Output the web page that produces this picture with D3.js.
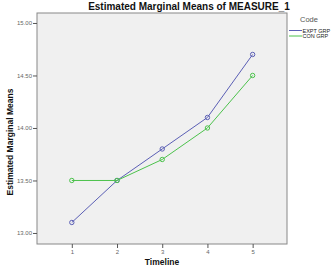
<!DOCTYPE html>
<html lang="en">
    <head>
        <meta charset="utf-8">
        <title>Estimated Marginal Means</title>
        <script src="https://d3js.org/d3.v7.min.js"></script>
        <style type="text/css">
            body { margin: 0; background: white; }
            svg text { font-family: "Liberation Sans", "Arial", sans-serif; }
            .axis path { display: none; }
            .axis line { stroke: #555; }
            .axis text { fill: #666; font-size: 6px; }
        </style>
    </head>
    <body>
        <div id="chart"></div>
        <script type="text/javascript">
        //DATA
            const timeline = [1, 2, 3, 4, 5];
            const exptGrp = [13.1, 13.5, 13.8, 14.1, 14.7];
            const conGrp = [13.5, 13.5, 13.7, 14.0, 14.5];
            const yTicks = [13.0, 13.5, 14.0, 14.5, 15.0];
            const seriesNames = ["EXPT GRP", "CON GRP"];
            const seriesColors = ["#5b5fb5", "#4cc24c"];

        //CONSTANTS
            const w = 334;
            const h = 268;
            const plotL = 37, plotR = 287, plotT = 13, plotB = 244;

            const svg = d3.select("#chart")
                    .append("svg")
                    .attr("width", w)
                    .attr("height", h);

            //SCALES
            const xScale = d3.scaleLinear()
                            .domain([0.23, 5.76])
                            .range([plotL, plotR]);
            const yScale = d3.scaleLinear()
                            .domain([12.895, 15.095])
                            .range([plotB, plotT]);

            //PLOT BACKGROUND
            svg.append("rect")
                .attr("x", plotL)
                .attr("y", plotT)
                .attr("width", plotR - plotL)
                .attr("height", plotB - plotT)
                .attr("fill", "#f0f0f0")
                .attr("stroke", "#888")
                .attr("stroke-width", 1);

            //AXES
            svg.append("g")
                .attr("class", "axis")
                .attr("transform", "translate(0," + plotB + ")")
                .call(d3.axisBottom(xScale).tickValues(timeline).tickSize(4).tickPadding(2).tickFormat(d3.format("d")));

            svg.append("g")
                .attr("class", "axis")
                .attr("transform", "translate(" + plotL + ",0)")
                .call(d3.axisLeft(yScale).tickValues(yTicks).tickSize(4).tickPadding(1).tickFormat(d3.format(".2f")));

            //LINES + MARKERS
            const line = d3.line()
                .x((d, i) => xScale(timeline[i]))
                .y(d => yScale(d));

            [exptGrp, conGrp].forEach((series, k) => {
                svg.append("path")
                    .datum(series)
                    .attr("d", line)
                    .attr("fill", "none")
                    .attr("stroke", seriesColors[k])
                    .attr("stroke-width", 1);

                svg.selectAll(".pt" + k)
                    .data(series)
                    .enter()
                    .append("circle")
                    .attr("class", "pt" + k)
                    .attr("cx", (d, i) => xScale(timeline[i]))
                    .attr("cy", d => yScale(d))
                    .attr("r", 2.2)
                    .attr("fill", "none")
                    .attr("stroke", seriesColors[k])
                    .attr("stroke-width", 1);
            });

            //TITLE
            svg.append("text")
                .attr("x", 189)
                .attr("y", 10)
                .attr("text-anchor", "middle")
                .attr("font-size", "10px")
                .attr("font-weight", "bold")
                .attr("fill", "#111")
                .text("Estimated Marginal Means of MEASURE_1");

            //AXIS TITLES
            svg.append("text")
                .attr("transform", "translate(13,142) rotate(-90)")
                .attr("text-anchor", "middle")
                .attr("font-size", "8.5px")
                .attr("font-weight", "bold")
                .attr("fill", "#111")
                .text("Estimated Marginal Means");

            svg.append("text")
                .attr("x", 162)
                .attr("y", 265)
                .attr("text-anchor", "middle")
                .attr("font-size", "8.5px")
                .attr("font-weight", "bold")
                .attr("fill", "#111")
                .text("Timeline");

            //LEGEND
            svg.append("text")
                .attr("x", 300)
                .attr("y", 22)
                .attr("font-size", "7.5px")
                .attr("fill", "#555")
                .text("Code");

            seriesNames.forEach((name, k) => {
                const ly = 30.5 + k * 5.5;
                svg.append("line")
                    .attr("x1", 289)
                    .attr("x2", 302)
                    .attr("y1", ly)
                    .attr("y2", ly)
                    .attr("stroke", seriesColors[k])
                    .attr("stroke-width", 1);
                svg.append("text")
                    .attr("x", 302.5)
                    .attr("y", ly + 2)
                    .attr("font-size", "5.5px")
                    .attr("fill", "#222")
                    .text(name);
            });
        </script>
    </body>
</html>
